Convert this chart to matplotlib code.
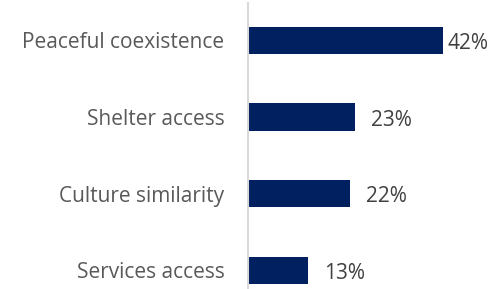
import matplotlib.pyplot as plt

categories = ['Peaceful coexistence', 'Shelter access', 'Culture similarity', 'Services access']
values = [42, 23, 22, 13]
labels = ['42%', '23%', '22%', '13%']

plt.rcParams['font.family'] = ['Open Sans', 'DejaVu Sans']

fig = plt.figure(figsize=(4.91, 2.89), dpi=100)
ax = fig.add_axes([248 / 491, 0, 243 / 491, 286 / 289])

pos = list(range(len(categories)))
ax.barh(pos, values, height=0.353, color='#002060')

ax.set_xlim(0, 243 / 4.65)
ax.set_ylim(3.248, -0.49)

for i, (v, t) in enumerate(zip(values, labels)):
    off = 4 if v == max(values) else 16
    ax.annotate(t, (v, i), xytext=(off, -3), textcoords='offset pixels',
                va='center', ha='left', fontsize=15, color='#404040')

ax.set_yticks(pos)
ax.set_yticklabels(categories, fontsize=15, color='#595959')
ax.tick_params(axis='y', length=0, pad=17)
ax.set_xticks([])

for s in ['top', 'right', 'bottom']:
    ax.spines[s].set_visible(False)
ax.spines['left'].set_color('#d9d9d9')
ax.spines['left'].set_linewidth(1.5)

fig.savefig('out.png', dpi=100)
